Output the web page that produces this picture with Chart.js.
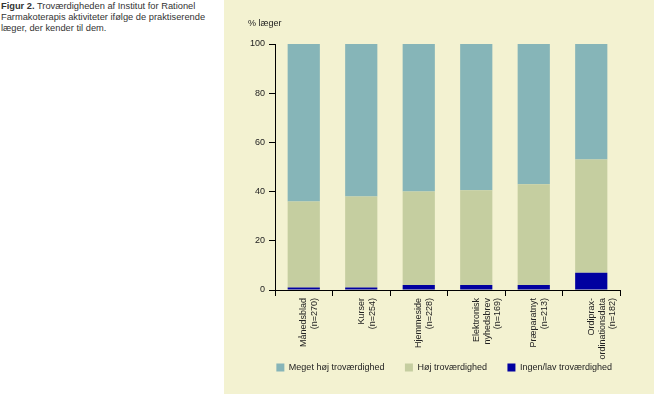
<!DOCTYPE html>
<html>
<head>
<meta charset="utf-8">
<script src="https://cdn.jsdelivr.net/npm/chart.js@4/dist/chart.umd.min.js"></script>
<style>
html,body{margin:0;padding:0;background:#fff;}
body{width:654px;height:394px;position:relative;overflow:hidden;font-family:"Liberation Sans",Arial,sans-serif;}
#caption{position:absolute;left:1px;top:1px;width:222px;font-size:9.3px;line-height:11px;color:#333;white-space:nowrap;}
#panel{position:absolute;left:224px;top:0;width:430px;height:394px;background:#f3f2d1;}
</style>
</head>
<body>
<div id="caption"><b>Figur 2.</b> Troværdigheden af Institut for Rationel<br>Farmakoterapis aktiviteter ifølge de praktiserende<br>læger, der kender til dem.</div>
<div id="panel"><canvas id="chart" width="430" height="394"></canvas></div>
<script>

let categories = [
["Månedsblad","(n=270)"],
["Kurser","(n=254)"],
["Hjemmeside","(n=228)"],
["Elektronisk","nyhedsbrev","(n=169)"],
["Præparatnyt","(n=213)"],
["Ordiprax-","ordinationsdata","(n=182)"]
]

let lowValues = [1,1,2,2,2,7]
let highValues = [35,37,38,38.5,41,46]
let veryHighValues = [64,62,60,59.5,57,47]

let yTicks = [0,20,40,60,80,100]

let chartFont = "'Liberation Sans', Arial, sans-serif"

let unitLabel = {
id:"unitLabel",
afterDraw(chart){
let ctx = chart.ctx
let area = chart.chartArea
ctx.save()
ctx.font = "9px " + chartFont
ctx.fillStyle = "#222"
ctx.textBaseline = "middle"
ctx.fillText("% læger", area.left - 27, area.top - 20)
ctx.restore()
}
}

// spacing after each legend text, in the order shown
let legendGaps = ["       ","       ","  "]

new Chart(document.getElementById("chart"),{

type:"bar",

data:{

labels:categories,

datasets:[
{
label:"Ingen/lav troværdighed",
data:lowValues,
backgroundColor:"#0000a0"
},
{
label:"Høj troværdighed",
data:highValues,
backgroundColor:"#c5cea0"
},
{
label:"Meget høj troværdighed",
data:veryHighValues,
backgroundColor:"#86b5b8"
}
]

},

options:{
responsive:false,
animation:false,
layout:{padding:{top:44,left:0,right:34,bottom:12}},
datasets:{bar:{barPercentage:0.56,categoryPercentage:1}},
plugins:{
tooltip:{enabled:false},
legend:{
position:"bottom",
align:"end",
labels:{
boxWidth:8,
boxHeight:8,
padding:3,
color:"#222",
font:{size:9,family:chartFont},
generateLabels(chart){
let items = Chart.defaults.plugins.legend.labels.generateLabels(chart).reverse()
items.forEach((item,i)=>{ item.text = item.text + legendGaps[i] })
return items
}
}
}
},
scales:{
x:{
stacked:true,
afterFit(scale){scale.height = 70},
border:{color:"#000",width:1},
grid:{drawOnChartArea:false,tickLength:6,color:"#000",offset:true},
ticks:{
minRotation:90,
maxRotation:90,
padding:2,
color:"#222",
font:{size:9,family:chartFont}
}
},
y:{
stacked:true,
min:0,
max:100,
afterFit(scale){scale.width = 51},
afterBuildTicks(scale){scale.ticks = yTicks.map(v=>({value:v}))},
border:{color:"#000",width:1},
grid:{drawOnChartArea:false,tickLength:6,color:"#000"},
ticks:{
padding:4,
color:"#222",
font:{size:9,family:chartFont}
}
}
}
},

plugins:[unitLabel]

})

</script>
</body>
</html>
